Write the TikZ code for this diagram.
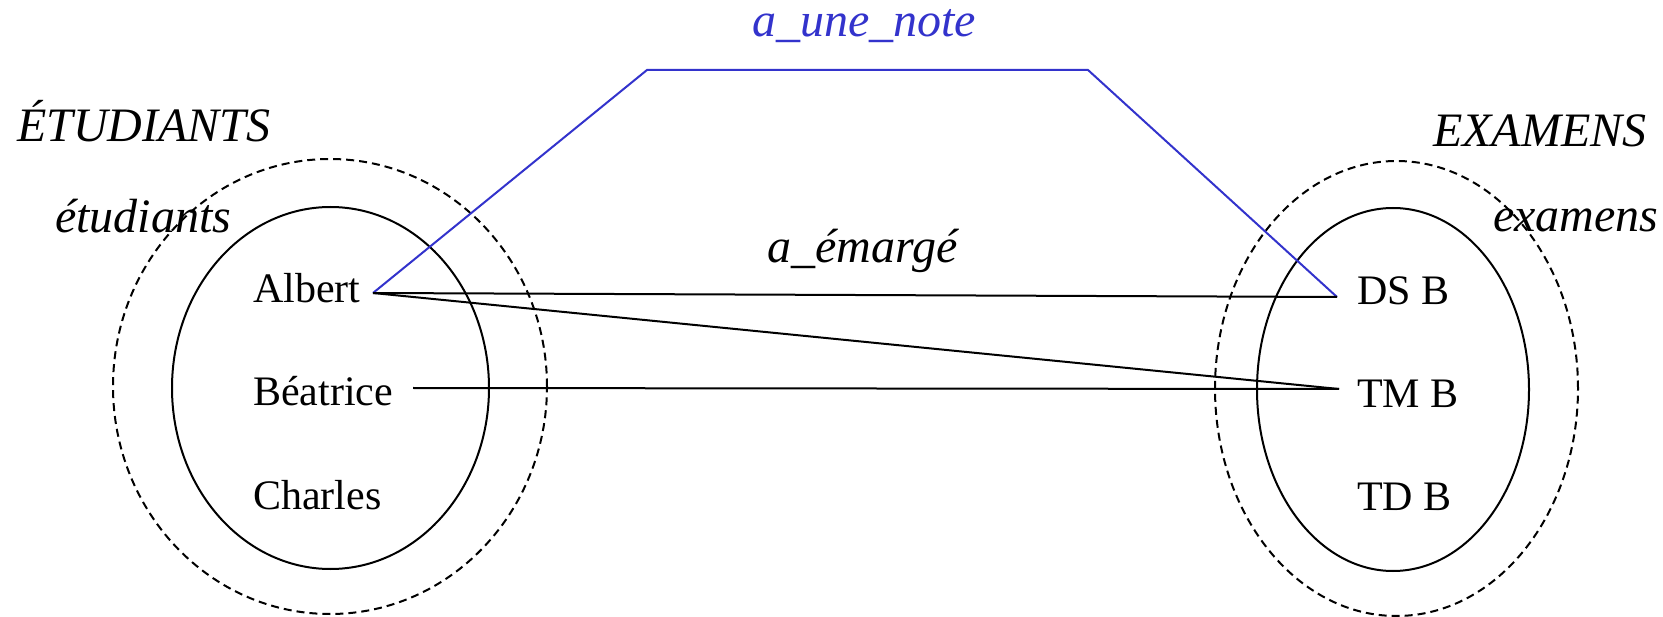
\documentclass[tikz,border=0pt]{standalone}
\usepackage{fontspec}
\setmainfont{Liberation Serif}
\usetikzlibrary{shapes.geometric}
\definecolor{relblue}{RGB}{51,51,204}
\begin{document}
\begin{tikzpicture}[x=1pt,y=-1pt,
  elem/.style={font=\fontsize{42}{46}\selectfont, inner sep=0pt, anchor=base west},
  lab/.style={font=\fontsize{48}{52}\selectfont\itshape, inner sep=0pt, anchor=base west},
  typeset/.style={ellipse, draw, line width=2pt, dash pattern=on 8pt off 5pt, inner sep=0pt},
  instset/.style={ellipse, draw, line width=2pt, inner sep=0pt},
  link/.style={line width=2pt},
  bluelink/.style={line width=2pt, draw=relblue}]
\useasboundingbox (0,0) rectangle (1663,617);
% sets
\node[typeset, minimum width=434pt, minimum height=455pt] (etuT) at (330,386.5) {};
\node[instset, minimum width=317pt, minimum height=362pt] (etuI) at (330.5,388) {};
\node[typeset, minimum width=363pt, minimum height=455pt] (exaT) at (1396.5,388.5) {};
\node[instset, minimum width=272pt, minimum height=363pt] (exaI) at (1393,389.5) {};
% labels
\node[lab] (ETU) at (17,142) {ÉTUDIANTS};
\node[lab] (etu) at (55,233) {étudiants};
\node[lab] (EXA) at (1433,147) {EXAMENS};
\node[lab] (exa) at (1493,232) {examens};
\node[lab, text=relblue] (note) at (752,37) {a\_une\_note};
\node[lab] (emarge) at (767,263) {a\_émargé};
% elements
\node[elem] (albert) at (253,303) {Albert};
\node[elem] (beatrice) at (253,406) {Béatrice};
\node[elem] (charles) at (253,509) {Charles};
\node[elem] (dsb) at (1357,305) {DS B};
\node[elem] (tmb) at (1357,408) {TM B};
\node[elem] (tdb) at (1357,510) {TD B};
% connector end points
\coordinate (albertR) at (373,293);
\coordinate (beatriceR) at (413,388);
\coordinate (dsbL) at (1337,297);
\coordinate (tmbL) at (1339,389);
\coordinate (bendL) at (647,70);
\coordinate (bendR) at (1088,70);
% connectors
\draw[bluelink] (albertR) -- (bendL) -- (bendR) -- (dsbL);
\draw[link] (albertR) -- (dsbL);
\draw[link] (albertR) -- (tmbL);
\draw[link] (beatriceR) -- (tmbL);
\end{tikzpicture}
\end{document}
